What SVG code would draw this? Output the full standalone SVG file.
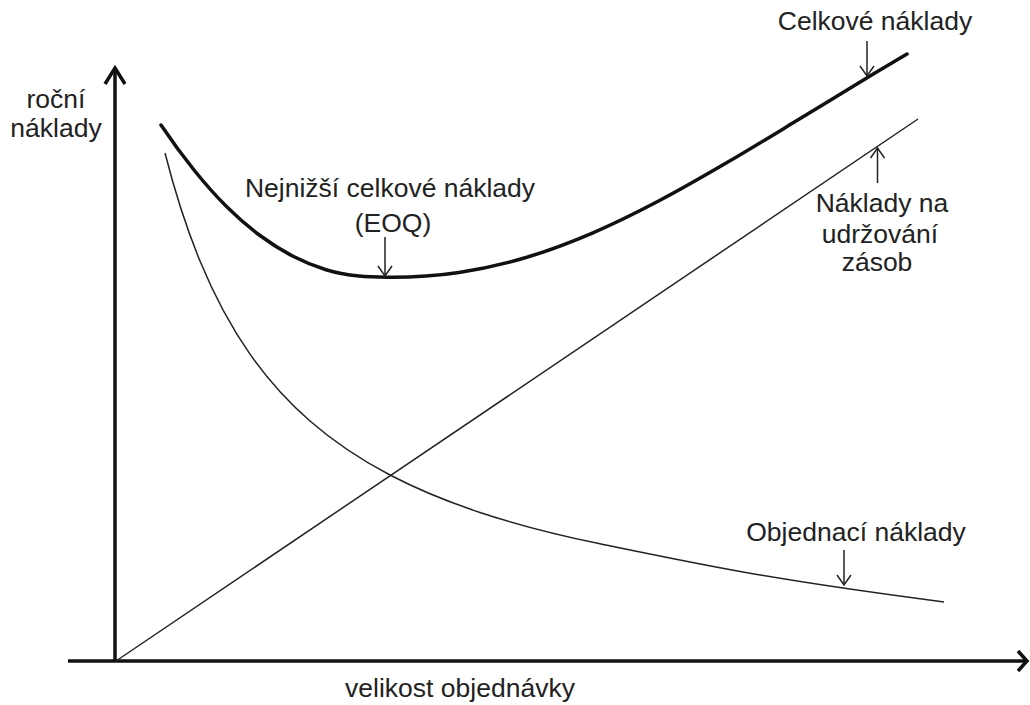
<svg xmlns="http://www.w3.org/2000/svg" width="1030" height="705" viewBox="0 0 1030 705">
<style>
.t{font-family:"Liberation Sans",Arial,sans-serif;font-size:26.5px;fill:#222;}
.ax{stroke:#111;stroke-width:3.5;fill:none;}
.thin{stroke:#222;stroke-width:1.5;fill:none;}
.thick{stroke:#111;stroke-width:3.5;fill:none;stroke-linecap:round;}
.la{stroke:#222;stroke-width:1.5;fill:none;}
</style>
<rect width="1030" height="705" fill="#fff"/>
<g id="axes">
<line class="ax" x1="115" y1="662" x2="115" y2="70"/>
<polyline class="ax" points="105,84 115,68 125,84"/>
<line class="ax" x1="68" y1="661" x2="1025" y2="661"/>
<polyline class="ax" points="1018,651 1027,661 1018,671"/>
<text class="t" x="56" y="108" text-anchor="middle">roční</text>
<text class="t" x="56" y="137" text-anchor="middle">náklady</text>
<text class="t" x="460" y="697" text-anchor="middle">velikost objednávky</text>
</g>
<g id="holding">
<line class="thin" x1="116" y1="661" x2="918" y2="119"/>
</g>
<g id="ordering">
<path class="thin" d="M165,153 C176.67,198.75 188.33,232.67 200,261 C216.67,301.47 233.33,330.31 250,354.1 C270,382.65 290,403.58 310,421 C336.67,444.23 363.33,461.08 390,475 C420,490.66 450,502.49 480,512.45 C520,525.73 560,535.56 600,543.8 C653.33,554.79 706.67,565.93 760,575 C821.33,585.43 882.67,594.03 944,602"/>
</g>
<g id="total">
<path class="thick" d="M161,125 C172,141.4 183,156.3 194,170 C205,183.7 216,196.1 227,207 C238,217.9 249,227.3 260,235.5 C271,243.7 282,250.6 293,256.3 C304,262 315,266.4 326,269.7 C337,273 348,274.85 359,276.1 C370,277.35 381,277.2 392,277.2 C414.3,277.2 436.7,275.7 459,272.4 C481.3,269.1 503.7,264.1 526,257.5 C548.3,250.9 570.7,242.3 593,232.8 C615.3,223.3 637.7,212 660,200.3 C682.3,188.6 704.7,175.6 727,162.6 C749.3,149.6 771.7,135.85 794,122.3 C816.3,108.75 838.7,94.9 861,81.4 C876.3,72.2 891.7,63 907,54"/>
</g>
<g id="label-total">
<text class="t" x="875" y="30" text-anchor="middle">Celkové náklady</text>
<line class="la" x1="867" y1="41" x2="867" y2="76"/>
<polyline class="la" points="860,66 867,76 874,66"/>
</g>
<g id="label-eoq">
<text class="t" x="390" y="197" text-anchor="middle">Nejnižší celkové náklady</text>
<text class="t" x="393" y="232" text-anchor="middle">(EOQ)</text>
<line class="la" x1="385" y1="237" x2="385" y2="276"/>
<polyline class="la" points="378,266 385,276 392,266"/>
</g>
<g id="label-holding">
<line class="la" x1="877.5" y1="183" x2="877.5" y2="148"/>
<polyline class="la" points="870.5,158 877.5,148 884.5,158"/>
<text class="t" x="882" y="212" text-anchor="middle">Náklady na</text>
<text class="t" x="880" y="243" text-anchor="middle">udržování</text>
<text class="t" x="877" y="271" text-anchor="middle">zásob</text>
</g>
<g id="label-ordering">
<text class="t" x="856" y="541" text-anchor="middle">Objednací náklady</text>
<line class="la" x1="844" y1="550" x2="844" y2="585"/>
<polyline class="la" points="837,575 844,585 851,575"/>
</g>
</svg>
